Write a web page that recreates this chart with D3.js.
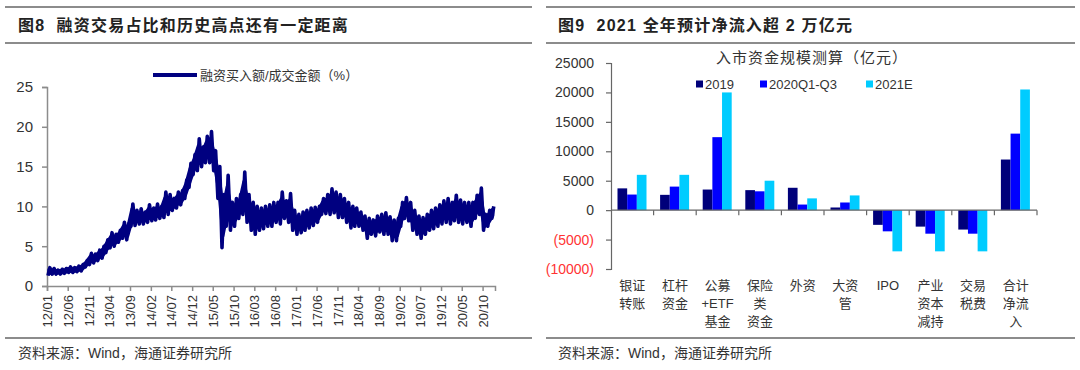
<!DOCTYPE html>
<html><head><meta charset="utf-8">
<script src="https://cdn.jsdelivr.net/npm/d3@7"></script>
<style>
body{margin:0;background:#fff}
svg{display:block}
text{font-family:"Liberation Sans",Arial,"Noto Sans CJK SC",sans-serif;fill:#333}
.cjk{font-family:"Liberation Sans","Noto Sans CJK SC",sans-serif}
</style></head>
<body><svg id="c" width="1080" height="370"></svg>
<script>
// ---------- LEFT CHART DATA (monthly low / high of daily ratio, %, from 2012-01) ----------
const ratioStart = [2012, 0];
const ratioLow = [
 1.3,1.5,1.5,1.5,1.6,1.7,1.7,1.8,1.9,2.4,2.7,2.9,
 3.2,3.5,4.2,4.8,5.0,5.5,6.0,5.8,7.5,7.6,7.8,7.8,
 8.0,8.2,8.3,8.5,8.6,9.0,9.5,9.8,10.2,11.0,12.4,14.0,
 14.5,15.0,15.5,15.5,14.5,11.0,4.8,7.5,7.0,7.5,8.5,9.0,
 8.0,7.0,6.5,7.0,7.2,7.5,7.5,8.0,7.8,8.5,8.0,7.0,
 6.5,6.7,7.0,7.3,7.6,8.0,9.0,9.1,9.0,9.2,8.6,8.6,
 8.0,7.3,7.5,7.5,7.0,6.0,6.5,6.3,6.8,6.5,6.5,5.7,
 5.7,7.5,8.5,8.2,7.0,6.5,6.0,6.5,7.0,7.2,7.5,7.8,
 8.0,7.8,8.2,8.0,7.8,8.0,7.5,8.5,9.0,7.0,7.5,8.5
];
const ratioHigh = [
 2.3,2.2,2.0,2.1,2.2,2.4,2.3,2.5,2.7,3.2,4.1,4.0,
 4.5,5.0,5.8,6.7,6.5,7.0,8.0,7.8,10.3,9.5,9.7,9.3,
 10.2,9.8,10.3,10.0,11.8,11.5,11.0,11.8,12.0,13.3,15.4,16.5,
 18.5,17.5,18.8,19.4,17.0,15.0,11.5,13.9,10.5,11.0,11.5,14.3,
 11.5,10.5,10.0,9.8,10.0,10.2,10.5,10.5,11.8,10.7,11.6,9.5,
 9.0,9.3,9.5,9.8,9.9,10.0,11.0,11.5,12.2,11.8,11.5,11.0,
 10.5,10.0,9.8,9.3,8.8,8.5,8.3,8.8,9.0,9.2,8.7,8.3,
 8.5,10.5,11.1,10.5,9.5,8.8,8.6,9.0,9.5,9.8,10.2,10.7,
 11.0,10.5,11.4,10.8,10.5,10.5,10.5,11.4,12.3,9.0,9.5,10.0
];
const xTickLabels = ["12/01","12/06","12/11","13/04","13/09","14/02","14/07","14/12","15/05","15/10","16/03","16/08","17/01","17/06","17/11","18/04","18/09","19/02","19/07","19/12","20/05","20/10"];
const yTicksLeft = [0,5,10,15,20,25];

// ---------- RIGHT CHART DATA (亿元) ----------
const categoryLines = [["银证","转账"],["杠杆","资金"],["公募","+ETF","基金"],["保险","类","资金"],["外资"],["大资","管"],["IPO"],["产业","资本","减持"],["交易","税费"],["合计","净流","入"]];
const seriesNames = ["2019","2020Q1-Q3","2021E"];
const values2019   = [3700, 2600, 3500, 3400, 3800, 450, -2500, -2800, -3300, 8600];
const values2020   = [2650, 4000, 12400, 3200, 950, 1300, -3600, -4000, -4000, 13000];
const values2021E  = [6000, 6000, 20000, 5000, 2000, 2500, -7000, -7000, -7000, 20500];
const yTicksRight = [-10000,-5000,0,5000,10000,15000,20000,25000];
const seriesColors = ["#00007a","#0000ff","#00ccff"];

const svg = d3.select("#c");

// ---------- frames / titles ----------
function panel(x0, x1, title, tx){
  [7, 43, 338].forEach(y=>svg.append("line").attr("x1",x0).attr("x2",x1).attr("y1",y).attr("y2",y)
     .attr("stroke","#8c8c8c").attr("stroke-width",2));
  svg.append("text").attr("class","cjk").attr("x",tx).attr("y",31).attr("font-size",16).attr("font-weight","bold")
     .attr("letter-spacing",1.2).style("fill","#222").attr("xml:space","preserve").text(title);
  svg.append("text").attr("class","cjk").attr("x",tx).attr("y",358).attr("font-size",14).style("fill","#333")
     .text("资料来源：Wind，海通证券研究所");
}
panel(5, 532, "图8  融资交易占比和历史高点还有一定距离", 18);
panel(546, 1075, "图9  2021 全年预计净流入超 2 万亿元", 558);

// ---------- LEFT CHART ----------
const xL = d3.scaleTime().domain([new Date(2012,0,1), new Date(2020,11,31)]).range([47, 495]);
const yL = d3.scaleLinear().domain([0,25]).range([286, 87]);

const pts = [];
const bands = [];
ratioLow.forEach((lo,i)=>{
  const hi = ratioHigh[i];
  pts.push({d:new Date(ratioStart[0], ratioStart[1]+i, 8), v:lo});
  pts.push({d:new Date(ratioStart[0], ratioStart[1]+i, 22), v:hi});
  bands.push({d:new Date(ratioStart[0], ratioStart[1]+i, 15), lo, hi});
});

const gyL = svg.append("g").attr("transform","translate(47,0)")
  .call(d3.axisLeft(yL).tickValues(yTicksLeft).tickSize(5).tickPadding(9));
gyL.selectAll("text").attr("font-size",15).style("fill","#333");

const tickDates = xTickLabels.map(s=>new Date(2000+ +s.slice(0,2), +s.slice(3)-1, 1));
const gxL = svg.append("g").attr("transform","translate(0,286)")
  .call(d3.axisBottom(xL).tickValues(tickDates).tickSize(5).tickFormat((d,i)=>xTickLabels[i]));
gxL.selectAll("text").attr("font-size",13).style("fill","#333")
  .attr("text-anchor","end").attr("transform","rotate(-90)").attr("x",-9).attr("y",0).attr("dy","0.35em");
[gyL,gxL].forEach(g=>{g.selectAll("path,line").attr("stroke","#8c8c8c").attr("stroke-width",1.5);});

// core of the band (inner part of each month's range)
svg.append("path").datum(bands)
  .attr("d", d3.area().x(b=>xL(b.d)).y0(b=>yL(b.lo + 0.22*(b.hi-b.lo))).y1(b=>yL(b.hi - 0.22*(b.hi-b.lo))))
  .attr("fill","#000080").attr("stroke","#000080").attr("stroke-width",3).attr("stroke-linejoin","round");
// daily swings
svg.append("path").datum(pts)
  .attr("d", d3.line().x(p=>xL(p.d)).y(p=>yL(p.v)))
  .attr("fill","none").attr("stroke","#000080").attr("stroke-width",3.6).attr("stroke-linejoin","round");

// legend
svg.append("line").attr("x1",153).attr("x2",197).attr("y1",75).attr("y2",75).attr("stroke","#000080").attr("stroke-width",4);
svg.append("text").attr("class","cjk").attr("x",200).attr("y",75).attr("dy","0.35em").attr("font-size",13).text("融资买入额/成交金额（%）");

// ---------- RIGHT CHART ----------
const cats = categoryLines.map(l=>l.join(""));
const x0 = d3.scaleBand().domain(cats).range([611, 1037]);
const x1 = d3.scaleBand().domain(seriesNames).range([6.5, 35.5]);
const yR = d3.scaleLinear().domain([-10000, 25000]).range([269, 63]);

const gyR = svg.append("g").attr("transform","translate(611,0)")
  .call(d3.axisLeft(yR).tickValues(yTicksRight).tickSize(5).tickPadding(12)
    .tickFormat(v=> v<0 ? "("+(-v)+")" : String(v)));
gyR.selectAll("text").attr("font-size",14).style("fill",d=> d<0 ? "#ff3333" : "#333");
gyR.selectAll("path,line").attr("stroke","#666").attr("stroke-width",1.2);

const allSeries = [values2019, values2020, values2021E];
allSeries.forEach((vals, si)=>{
  svg.append("g").selectAll("rect").data(vals).join("rect")
    .attr("x",(v,i)=>x0(cats[i]) + x1(seriesNames[si]))
    .attr("width", x1.bandwidth())
    .attr("y", v=> yR(Math.max(0,v)))
    .attr("height", v=> Math.abs(yR(v)-yR(0)))
    .attr("fill", seriesColors[si]);
});

// zero axis with boundary ticks
const gxR = svg.append("g").attr("transform",`translate(0,${yR(0)})`);
gxR.append("line").attr("x1",611).attr("x2",1037).attr("stroke","#666").attr("stroke-width",1.2);
const bounds = cats.map(c=>x0(c)).concat([1037]).slice(1);
gxR.selectAll(".tk").data(bounds).join("line").attr("class","tk")
  .attr("x1",d=>d).attr("x2",d=>d).attr("y1",0).attr("y2",5).attr("stroke","#666").attr("stroke-width",1.2);

// category labels
const lab = svg.append("g").selectAll("text").data(categoryLines).join("text")
  .attr("class","cjk").attr("font-size",13).attr("text-anchor","middle")
  .attr("x",(l,i)=>x0(cats[i])+x0.bandwidth()/2).attr("y",290);
lab.selectAll("tspan").data((l,i)=>l.map(t=>({t, x:x0(cats[i])+x0.bandwidth()/2}))).join("tspan")
  .attr("x",d=>d.x).attr("dy",(d,j)=> j===0 ? 0 : 18).text(d=>d.t);

// chart title
svg.append("text").attr("class","cjk").attr("x",812).attr("y",63).attr("text-anchor","middle")
  .attr("font-size",15).attr("letter-spacing",1).text("入市资金规模测算（亿元）");

// legend
const legX = [696, 760, 866];
seriesNames.forEach((n,i)=>{
  svg.append("rect").attr("x",legX[i]).attr("y",80.5).attr("width",7).attr("height",7).attr("fill",seriesColors[i]);
  svg.append("text").attr("x",legX[i]+9).attr("y",84).attr("dy","0.35em").attr("font-size",13).text(n);
});
</script>
</body></html>
